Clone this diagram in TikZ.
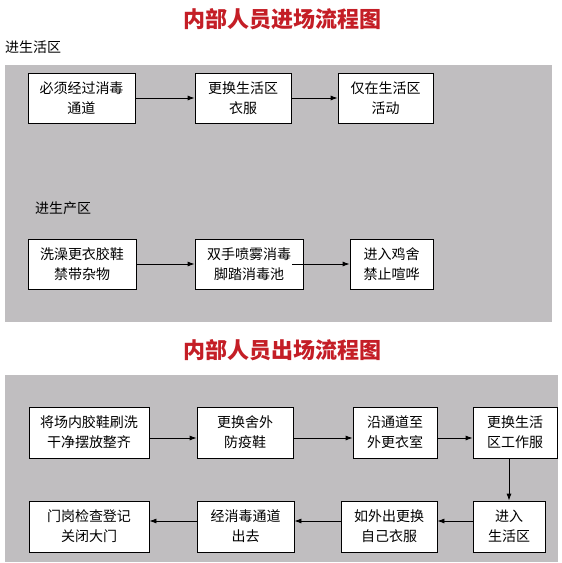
\documentclass[tikz,border=0pt]{standalone}
\usepackage{fontspec}
\setmainfont{Noto Sans CJK SC}
\usetikzlibrary{arrows.meta}
\definecolor{panelgray}{RGB}{192,190,192}
\definecolor{titlered}{RGB}{196,30,38}
\begin{document}
\begin{tikzpicture}[
        x=1pt, y=-1pt,
        flow_box/.style={rectangle, draw=black, line width=0.8pt, fill=white, inner sep=0pt, minimum height=50pt, align=center, font=\fontsize{14}{20}\selectfont},
        panel/.style={fill=panelgray, draw=none},
        title/.style={text=titlered, font=\fontsize{22}{26}\selectfont\bfseries},
        zone_label/.style={anchor=west, inner sep=0pt, font=\fontsize{14}{16}\selectfont},
        arrow/.style={->, line width=0.8pt, >={Latex[length=7pt,width=5pt]}}
    ]
    \useasboundingbox (0,0) rectangle (562,563);

    % Top Section: entry flow
    \node[title] (t_in) at (282,19) {内部人员进场流程图};
    \node[zone_label] (z_live) at (5,47) {进生活区};
    \fill[panel] (5,65) rectangle (552,322);

    % Living area row
    \node[flow_box, minimum width=107pt] (e1) at (81.5,98) {必须经过消毒\\通道};
    \node[flow_box, minimum width=96pt] (e2) at (243,98) {更换生活区\\衣服};
    \node[flow_box, minimum width=95pt] (e3) at (385.5,98) {仅在生活区\\活动};
    \draw[arrow] (e1.east) -- (e2.west);
    \draw[arrow] (e2.east) -- (e3.west);

    % Production area row
    \node[zone_label] (z_prod) at (35,208) {进生产区};
    \node[flow_box, minimum width=108pt] (p1) at (82,264) {洗澡更衣胶鞋\\禁带杂物};
    \node[flow_box, minimum width=108pt] (p2) at (249,264) {双手喷雾消毒\\脚踏消毒池};
    \node[flow_box, minimum width=83pt] (p3) at (391.5,264) {进入鸡舍\\禁止喧哗};
    \draw[arrow] (p1.east) -- (p2.west);
    \draw[arrow] ([xshift=-11pt]p2.east) -- (p3.west);

    % Bottom Section: exit flow
    \node[title] (t_out) at (282,350) {内部人员出场流程图};
    \fill[panel] (5,375) rectangle (558,562);

    % First row, left to right
    \node[flow_box, minimum width=120pt, minimum height=51pt] (o1) at (89,432.5) {将场内胶鞋刷洗\\干净摆放整齐};
    \node[flow_box, minimum width=96pt, minimum height=51pt] (o2) at (245,432.5) {更换舍外\\防疫鞋};
    \node[flow_box, minimum width=84pt, minimum height=51pt] (o3) at (395,432.5) {沿通道至\\外更衣室};
    \node[flow_box, minimum width=84pt, minimum height=51pt] (o4) at (515,432.5) {更换生活\\区工作服};
    \draw[arrow] ([yshift=-5.5pt]o1.east) -- ([yshift=-5.5pt]o2.west);
    \draw[arrow] ([yshift=-5.5pt]o2.east) -- ([yshift=-5.5pt]o3.west);
    \draw[arrow] ([yshift=-5.5pt]o3.east) -- ([yshift=-5.5pt]o4.west);

    % Second row, right to left
    \node[flow_box, minimum width=72pt, minimum height=51pt] (o5) at (509,526.5) {进入\\生活区};
    \node[flow_box, minimum width=96pt, minimum height=51pt] (o6) at (389,526.5) {如外出更换\\自己衣服};
    \node[flow_box, minimum width=97pt, minimum height=51pt] (o7) at (245.5,526.5) {经消毒通道\\出去};
    \node[flow_box, minimum width=120pt, minimum height=51pt] (o8) at (89,526.5) {门岗检查登记\\关闭大门};
    \draw[arrow] ([xshift=-6pt]o4.south) -- (o5.north);
    \draw[arrow] ([yshift=5.5pt]o5.west) -- ([yshift=5.5pt]o6.east);
    \draw[arrow] ([yshift=5.5pt]o6.west) -- ([yshift=5.5pt]o7.east);
    \draw[arrow] ([yshift=5.5pt]o7.west) -- ([yshift=5.5pt]o8.east);

    \end{tikzpicture}
\end{document}
